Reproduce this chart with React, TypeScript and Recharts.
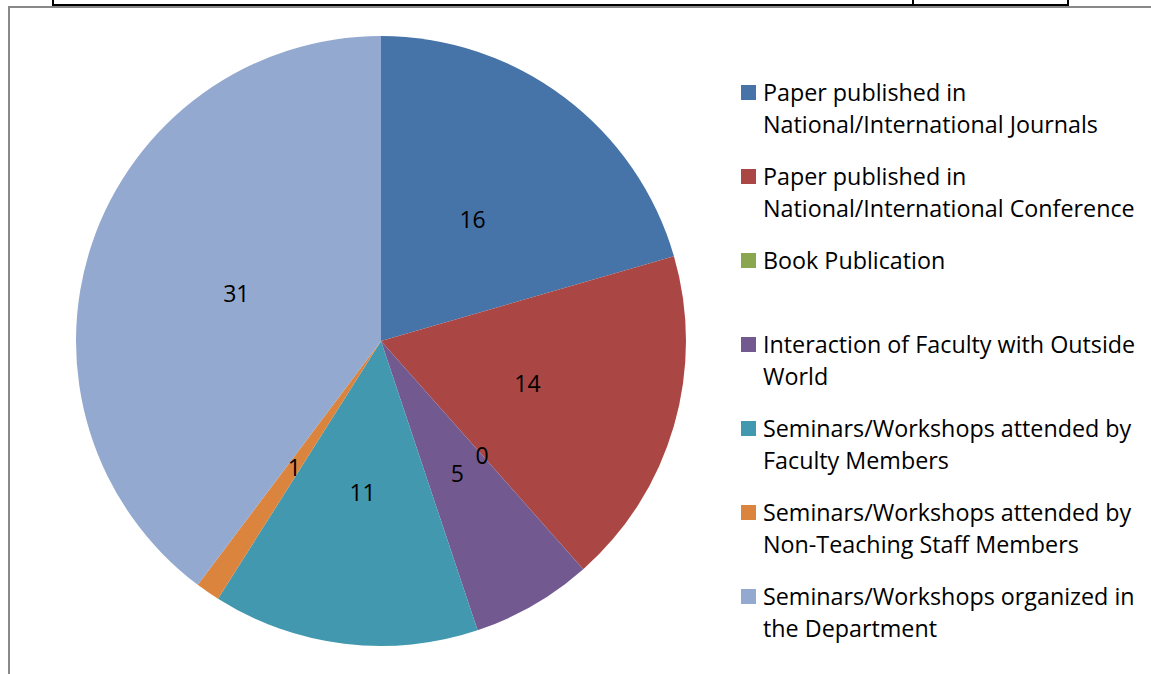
import { Cell, Legend, Pie, PieChart } from 'recharts';

const categories = [
  'Paper published in\nNational/International Journals',
  'Paper published in\nNational/International Conference',
  'Book Publication',
  'Interaction of Faculty with Outside\nWorld',
  'Seminars/Workshops attended by\nFaculty Members',
  'Seminars/Workshops attended by\nNon-Teaching Staff Members',
  'Seminars/Workshops organized in\nthe Department',
];
const counts = [16, 14, 0, 5, 11, 1, 31];
const colors = ['#4673A8', '#AA4744', '#8AA64F', '#725A90', '#4298AF', '#DB843D', '#94A9CF'];

const data = categories.map((name, i) => ({ name, value: counts[i] }));

const FONT = '"Open Sans", Calibri, sans-serif';
const RAD = Math.PI / 180;

function renderLabel(props: any) {
  const { cx, cy, midAngle, outerRadius, value } = props;
  const r = outerRadius * 0.5;
  const x = cx + r * Math.cos(-midAngle * RAD);
  const y = cy + r * Math.sin(-midAngle * RAD);
  return (
    <text
      x={x}
      y={y}
      textAnchor="middle"
      dominantBaseline="central"
      fill="#000"
      fontSize={23}
      fontFamily={FONT}
    >
      {value}
    </text>
  );
}

function LegendBox() {
  return (
    <div style={{ fontFamily: FONT, fontSize: 23.3, color: '#000' }}>
      {data.map((d, i) => (
        <div key={d.name} style={{ display: 'flex', height: 84 }}>
          <div
            style={{
              width: 15,
              height: 15,
              background: colors[i],
              marginTop: 8,
              marginRight: 7,
              flexShrink: 0,
            }}
          />
          <div style={{ whiteSpace: 'pre-line', lineHeight: '32px', marginTop: -1 }}>{d.name}</div>
        </div>
      ))}
    </div>
  );
}

export default function App() {
  return (
    <div style={{ position: 'absolute', left: 0, top: 0, width: 1151, height: 674, background: '#fff' }}>
      {/* table lines above the chart */}
      <div style={{ position: 'absolute', left: 52, top: 4, width: 1017, height: 2, background: '#000' }} />
      <div style={{ position: 'absolute', left: 52, top: 0, width: 2, height: 6, background: '#000' }} />
      <div style={{ position: 'absolute', left: 912, top: 0, width: 2, height: 6, background: '#000' }} />
      <div style={{ position: 'absolute', left: 1067, top: 0, width: 2, height: 6, background: '#000' }} />
      {/* chart frame */}
      <div style={{ position: 'absolute', left: 8, top: 6, width: 1143, height: 2, background: '#888' }} />
      <div style={{ position: 'absolute', left: 8, top: 6, width: 2, height: 668, background: '#888' }} />
      <PieChart
        width={1151}
        height={674}
        margin={{ top: 0, right: 0, bottom: 0, left: 0 }}
        style={{ position: 'absolute', left: 0, top: 0 }}
      >
        <Pie
          data={data}
          dataKey="value"
          nameKey="name"
          cx={381}
          cy={341}
          outerRadius={305}
          startAngle={90}
          endAngle={-270}
          stroke="none"
          label={renderLabel}
          labelLine={false}
          isAnimationActive={false}
        >
          {data.map((d, i) => (
            <Cell key={d.name} fill={colors[i]} />
          ))}
        </Pie>
        <Legend
          layout="vertical"
          content={<LegendBox />}
          wrapperStyle={{ left: 741, top: 77, width: 410 }}
        />
      </PieChart>
    </div>
  );
}
